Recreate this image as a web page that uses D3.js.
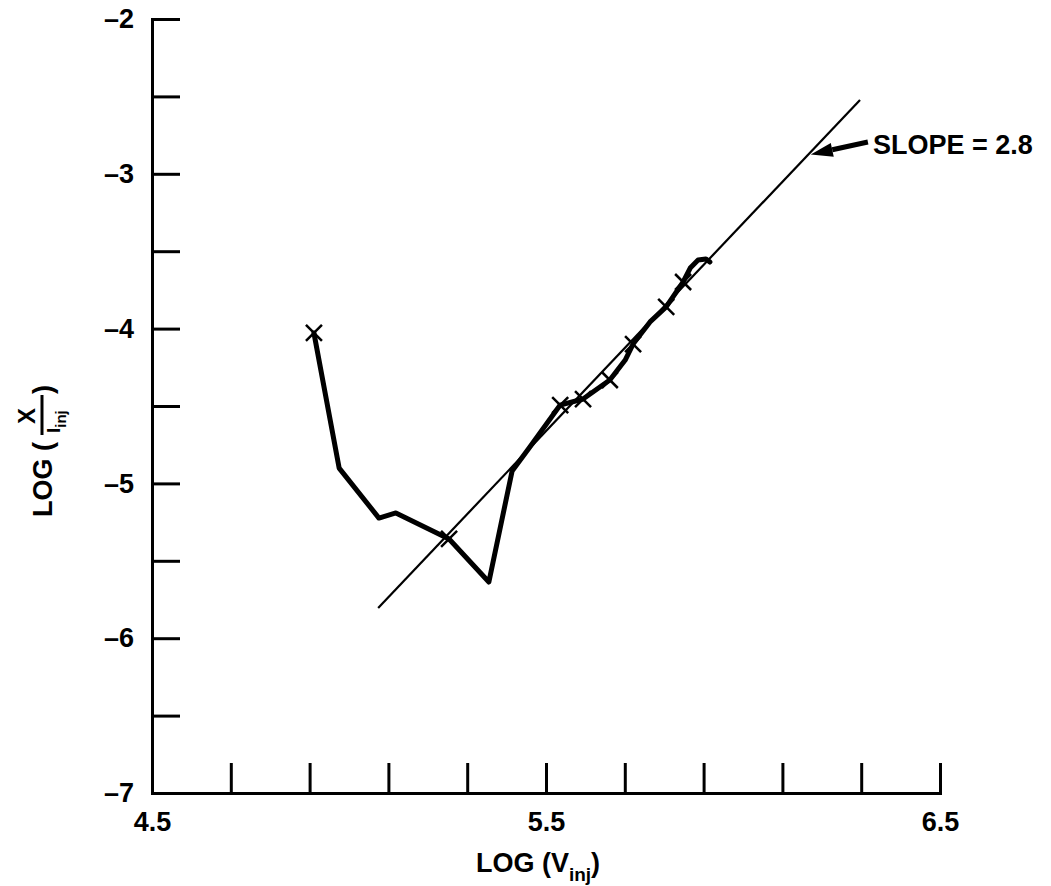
<!DOCTYPE html>
<html>
<head>
    <title>log x over i_inj</title>
    <script type="text/javascript" src="https://cdn.jsdelivr.net/npm/d3@7"></script>
    <style type="text/css">
        body { margin: 0; background: #fff; }
        svg { display: block; font-family: "Liberation Sans", Arial, sans-serif; font-weight: bold; }
        .axis path, .axis line { stroke: #000; stroke-width: 3px; }
        .axis text { font-size: 27px; font-weight: bold; fill: #000; font-family: "Liberation Sans", Arial, sans-serif; }
    </style>
</head>
<body>
    <svg id="chart" width="1051" height="886"></svg>
</body>

<script type="text/javascript">

    // measured curve, LOG(V_inj) vs LOG(X/I_inj)
    let logV = [4.911, 4.975, 5.076, 5.119, 5.254, 5.355, 5.414, 5.459, 5.536, 5.594,
                5.662, 5.701, 5.721, 5.764, 5.805, 5.848, 5.866, 5.886, 5.906, 5.916];
    let logX = [-4.028, -4.901, -5.224, -5.191, -5.359, -5.637, -4.920, -4.765, -4.494, -4.455,
                -4.332, -4.203, -4.100, -3.957, -3.860, -3.699, -3.609, -3.557, -3.550, -3.570];
    // indices of points drawn with an x mark
    let marked = [0, 4, 8, 9, 10, 12, 14, 15];

    // fitted straight line
    let fitV = [5.074, 6.297];
    let fitX = [-5.805, -2.523];

    // annotation arrow: tail, tip
    let arrowV = [6.317, 6.172];
    let arrowX = [-2.795, -2.875];
    let slopeLabel = "SLOPE = 2.8";

    let xTicks = [4.5, 4.7, 4.9, 5.1, 5.3, 5.5, 5.7, 5.9, 6.1, 6.3, 6.5];
    let xLabels = [4.5, 5.5, 6.5];
    let yTicks = [-2, -2.5, -3, -3.5, -4, -4.5, -5, -5.5, -6, -6.5, -7];
    let yLabels = [-2, -3, -4, -5, -6, -7];

    let svg = d3.select("#chart");

    let x = d3.scaleLinear().domain([4.5, 6.5]).range([152, 940]);
    let y = d3.scaleLinear().domain([-7, -2]).range([793, 19]);

    let xAxis = d3.axisBottom(x)
                    .tickValues(xTicks)
                    .tickSizeInner(-30)
                    .tickSizeOuter(0)
                    .tickPadding(19)
                    .tickFormat(function(d) {
                        return xLabels.some(v => Math.abs(v - d) < 1e-6) ? d.toFixed(1) : "";
                    });
    svg.append("g")
        .attr("class", "axis")
        .attr("transform", "translate(0," + y(-7) + ")")
        .call(xAxis);

    let yAxis = d3.axisLeft(y)
                    .tickValues(yTicks)
                    .tickSizeInner(-28)
                    .tickSizeOuter(0)
                    .tickPadding(18)
                    .tickFormat(function(d) {
                        return yLabels.indexOf(d) >= 0 ? "\u2013" + Math.abs(d) : "";
                    });
    svg.append("g")
        .attr("class", "axis")
        .attr("transform", "translate(" + x(4.5) + ",0)")
        .call(yAxis);

    svg.selectAll(".axis path").attr("stroke-linecap", "square");

    // fitted line
    let line = d3.line()
                    .x(function(d) { return x(d[0]); })
                    .y(function(d) { return y(d[1]); });

    svg.append("path")
        .attr("d", line(d3.zip(fitV, fitX)))
        .attr("fill", "none")
        .attr("stroke", "#000")
        .attr("stroke-width", 2.2);

    // measured curve
    let pts = d3.zip(logV, logX);
    svg.append("path")
        .attr("d", line(pts))
        .attr("fill", "none")
        .attr("stroke", "#000")
        .attr("stroke-width", 5)
        .attr("stroke-linejoin", "round")
        .attr("stroke-linecap", "round");

    // x marks
    let s = 8;
    svg.selectAll(".mark")
        .data(marked.map(i => pts[i]))
        .enter()
        .append("path")
        .attr("class", "mark")
        .attr("d", function(d) {
            let cx = x(d[0]), cy = y(d[1]);
            return "M" + (cx - s) + "," + (cy - s) + "L" + (cx + s) + "," + (cy + s) +
                   "M" + (cx - s) + "," + (cy + s) + "L" + (cx + s) + "," + (cy - s);
        })
        .attr("stroke", "#000")
        .attr("stroke-width", 2.5);

    // slope annotation
    let tx = x(arrowV[0]), ty = y(arrowX[0]);
    let hx = x(arrowV[1]), hy = y(arrowX[1]);
    let ang = Math.atan2(hy - ty, hx - tx);
    let hl = 22, hw = 7;
    let bx = hx - hl * Math.cos(ang), by = hy - hl * Math.sin(ang);
    svg.append("line")
        .attr("x1", tx).attr("y1", ty)
        .attr("x2", bx).attr("y2", by)
        .attr("stroke", "#000")
        .attr("stroke-width", 5);
    svg.append("polygon")
        .attr("points", [
            [hx, hy],
            [bx - hw * Math.sin(ang), by + hw * Math.cos(ang)],
            [bx + hw * Math.sin(ang), by - hw * Math.cos(ang)]
        ].map(p => p.join(",")).join(" "))
        .attr("fill", "#000");
    svg.append("text")
        .attr("x", tx + 5)
        .attr("y", y(arrowX[1]))
        .attr("font-size", 27)
        .text(slopeLabel);

    // x axis title
    let xt = svg.append("text")
        .attr("x", 538)
        .attr("y", 872)
        .attr("text-anchor", "middle")
        .attr("font-size", 27);
    xt.append("tspan").text("LOG (V");
    xt.append("tspan").attr("font-size", 19).attr("dy", 9).text("inj");
    xt.append("tspan").attr("dy", -9).text(")");

    // y axis title, rotated, with the X / I_inj fraction
    let yt = svg.append("g").attr("transform", "translate(52,517) rotate(-90)");
    yt.append("text").attr("x", 0).attr("y", 0).attr("font-size", 27).text("LOG (");
    yt.append("text").attr("x", 101).attr("y", -17).attr("text-anchor", "middle")
        .attr("font-size", 24).text("X");
    yt.append("line")
        .attr("x1", 82).attr("x2", 122)
        .attr("y1", -10).attr("y2", -10)
        .attr("stroke", "#000").attr("stroke-width", 3);
    let den = yt.append("text").attr("x", 84).attr("y", 8).attr("font-size", 19);
    den.append("tspan").text("I");
    den.append("tspan").attr("font-size", 15).attr("dy", 6).text("inj");
    yt.append("text").attr("x", 123).attr("y", 0).attr("font-size", 27).text(")");

</script>

</html>
